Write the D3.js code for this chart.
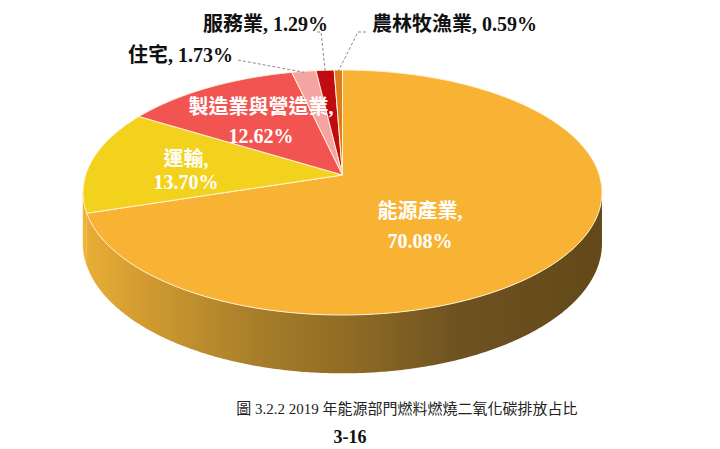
<!DOCTYPE html>
<html><head><meta charset="utf-8">
<script src="https://cdn.jsdelivr.net/npm/d3@7"></script>
<style>html,body{margin:0;padding:0;background:#fff;} svg{display:block}</style>
</head><body><svg id="c" width="720" height="449"></svg>
<script>
// ---------- data ----------
const categories = ["能源產業", "運輸", "製造業與營造業", "住宅", "服務業", "農林牧漁業"];
const values = [70.08, 13.70, 12.62, 1.73, 1.29, 0.59];
const percentLabels = ["70.08%", "13.70%", "12.62%", "1.73%", "1.29%", "0.59%"];
const captionTitle = "圖 3.2.2 2019 年能源部門燃料燃燒二氧化碳排放占比";
const pageNumber = "3-16";

// ---------- styles / layout ----------
const topColors = ["#F8B334", "#F2D21C", "#F25452", "#F5A3A3", "#C10B12", "#DE7D1C"];
const geo = {cx: 342.5, vy: 175, Rx: 256.8, Ry: 120, p: 0.1429, depth: 50};
const insideLabels = [
  {i: 0, x: 420, y1: 218, y2: 248},
  {i: 1, x: 186, y1: 166, y2: 189},
  {i: 2, x: 261, y1: 114, y2: 143}
];
const outsideLabels = [
  {i: 3, x: 128, y: 62, lead: [[238, 60]]},
  {i: 4, x: 203, y: 31, lead: [[317, 32], [321, 32]]},
  {i: 5, x: 372, y: 31, lead: [[366, 32], [358, 32]]}
];
const labelFont = "'Liberation Serif','Noto Sans CJK TC',serif";

const svg = d3.select("#c");

function proj(a, r = 1, drop = 0) {
  const w = 1 + geo.p * r * Math.cos(a);
  return [geo.cx + geo.Rx * r * Math.sin(a) / w,
          geo.vy - geo.Ry * r * Math.cos(a) / w + drop / w];
}
function sample(a0, a1) {
  const n = Math.max(2, Math.ceil((a1 - a0) / (Math.PI / 360)));
  return d3.range(n + 1).map(k => a0 + (a1 - a0) * k / n);
}
const line = d3.line();

const arcs = d3.pie().sort(null).value(d => d).startAngle(0).endAngle(2 * Math.PI)(values);

// gradient for side
const defs = svg.append("defs");
const grad = defs.append("linearGradient").attr("id", "sideGrad")
  .attr("gradientUnits", "userSpaceOnUse").attr("x1", 85).attr("x2", 603).attr("y1", 0).attr("y2", 0);
[[0, "#E8AE36"], [0.12, "#D09A30"], [0.33, "#A87E2A"], [0.52, "#8E6A24"], [0.72, "#6E5220"], [1, "#634819"]]
  .forEach(([o, c]) => grad.append("stop").attr("offset", o).attr("stop-color", c));

// sides
const aL = Math.acos(-geo.p), aR = 2 * Math.PI - aL;
const sideG = svg.append("g");
arcs.forEach((d, i) => {
  const s0 = Math.max(d.startAngle, aL), s1 = Math.min(d.endAngle, aR);
  if (s1 <= s0) return;
  const angs = sample(s0, s1);
  const pts = angs.map(a => proj(a)).concat(angs.slice().reverse().map(a => proj(a, 1, geo.depth)));
  sideG.append("path").attr("d", line(pts) + "Z")
    .attr("fill", i === 0 ? "url(#sideGrad)" : "#ECB43A")
    .attr("stroke", i === 0 ? "none" : "#ECB43A").attr("stroke-width", 0.5);
});

// top faces
const topG = svg.append("g");
arcs.forEach((d, i) => {
  const pts = [[geo.cx, geo.vy]].concat(sample(d.startAngle, d.endAngle).map(a => proj(a)));
  topG.append("path").attr("d", line(pts) + "Z")
    .attr("fill", topColors[i]).attr("stroke", "#FFF3D6").attr("stroke-width", 1)
    .attr("stroke-linejoin", "round");
});

// inside labels
insideLabels.forEach(l => {
  const g = svg.append("g").attr("font-family", labelFont).attr("font-weight", "bold")
    .attr("font-size", 20).attr("fill", "#fff").attr("text-anchor", "middle");
  g.append("text").attr("x", l.x).attr("y", l.y1).text(categories[l.i] + ",");
  g.append("text").attr("x", l.x).attr("y", l.y2).text(percentLabels[l.i]);
});

// outside labels + leader lines
outsideLabels.forEach(l => {
  const d = arcs[l.i];
  const mid = (d.startAngle + d.endAngle) / 2;
  const pts = l.lead.concat([proj(mid, 0.99)]);
  svg.append("path").attr("d", line(pts)).attr("fill", "none")
    .attr("stroke", "#8C8C8C").attr("stroke-width", 1).attr("stroke-dasharray", "3,2");
  svg.append("text").attr("x", l.x).attr("y", l.y)
    .attr("font-family", labelFont).attr("font-weight", "bold").attr("font-size", 20)
    .attr("fill", "#111").text(categories[l.i] + ", " + percentLabels[l.i]);
});

// caption
svg.append("text").attr("x", 407).attr("y", 414).attr("text-anchor", "middle")
  .attr("font-family", labelFont).attr("font-size", 15).attr("fill", "#222").text(captionTitle);
svg.append("text").attr("x", 350).attr("y", 443).attr("text-anchor", "middle")
  .attr("font-family", labelFont).attr("font-weight", "bold").attr("font-size", 18)
  .attr("fill", "#111").text(pageNumber);
</script>
</body></html>
